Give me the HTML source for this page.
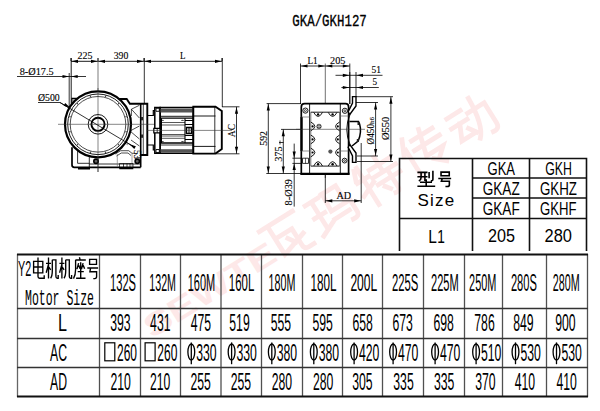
<!DOCTYPE html>
<html><head><meta charset="utf-8"><style>
html,body{margin:0;padding:0;background:#fff;}
body{width:600px;height:411px;overflow:hidden;position:relative;}
svg{position:absolute;left:0;top:0;}
</style></head><body>
<svg width="600" height="411" viewBox="0 0 600 411">
<path d="M-16 -15 H16 M-8 -15 V12 L14 5 M-8 -3 H8 V13 Q8 17 12 17 H17 M1 2 L5 8" transform="translate(285.5 237.0) rotate(-32) scale(1.22)" fill="none" stroke="#fde8e8" stroke-width="3.9" stroke-linecap="square"/>
<path d="M-18 -13 H-6 M-17 0 H-7 M-12 -13 V13 M-18 16 L-5 10 M-2 -14 H12 V-2 M-1 -14 L-2 2 H16 V13 Q16 18 10 17 M-3 9 H11" transform="translate(332.1 207.9) rotate(-32) scale(1.22)" fill="none" stroke="#fde8e8" stroke-width="3.9" stroke-linecap="square"/>
<path d="M-14 -16 L-17 -8 M-17 -6 H-6 M-11 -17 V18 M-18 6 L-5 0 M-3 -10 H16 M6 -17 V-3 M-4 -3 H18 M-3 4 H18 M10 0 V14 Q10 18 6 17 M1 8 L4 12" transform="translate(378.8 178.7) rotate(-32) scale(1.22)" fill="none" stroke="#fde8e8" stroke-width="3.9" stroke-linecap="square"/>
<path d="M-12 -17 L-18 -4 M-14 -8 V18 M-6 -12 H14 M-8 -4 H16 M4 -17 L-2 5 H14 L6 12 M2 10 L10 17" transform="translate(425.4 149.6) rotate(-32) scale(1.22)" fill="none" stroke="#fde8e8" stroke-width="3.9" stroke-linecap="square"/>
<path d="M-17 -12 H-4 M-18 -3 H-3 M-10 -3 L-16 10 H-4 M-6 4 L-2 10 M0 -7 H16 V12 Q16 18 10 17 M7 -17 Q6 8 -2 16" transform="translate(472.1 120.4) rotate(-32) scale(1.22)" fill="none" stroke="#fde8e8" stroke-width="3.9" stroke-linecap="square"/>
<text x="0" y="0" transform="translate(152 339) rotate(-32)" font-size="32" font-weight="bold" font-family='"Liberation Sans", sans-serif' fill="#fde8e8" textLength="150" lengthAdjust="spacingAndGlyphs">SEWTE</text>
<line x1="17.5" y1="254" x2="17.5" y2="397" stroke="#666" stroke-width="1.3"/>
<line x1="99.5" y1="254" x2="99.5" y2="397" stroke="#505050" stroke-width="1.3"/>
<line x1="140.5" y1="254" x2="140.5" y2="397" stroke="#505050" stroke-width="1.3"/>
<line x1="180.5" y1="254" x2="180.5" y2="397" stroke="#505050" stroke-width="1.3"/>
<line x1="221.0" y1="254" x2="221.0" y2="397" stroke="#505050" stroke-width="1.3"/>
<line x1="261.5" y1="254" x2="261.5" y2="397" stroke="#505050" stroke-width="1.3"/>
<line x1="302.5" y1="254" x2="302.5" y2="397" stroke="#505050" stroke-width="1.3"/>
<line x1="342.5" y1="254" x2="342.5" y2="397" stroke="#505050" stroke-width="1.3"/>
<line x1="382.5" y1="254" x2="382.5" y2="397" stroke="#505050" stroke-width="1.3"/>
<line x1="423.5" y1="254" x2="423.5" y2="397" stroke="#505050" stroke-width="1.3"/>
<line x1="464.5" y1="254" x2="464.5" y2="397" stroke="#505050" stroke-width="1.3"/>
<line x1="502.5" y1="254" x2="502.5" y2="397" stroke="#505050" stroke-width="1.3"/>
<line x1="546.5" y1="254" x2="546.5" y2="397" stroke="#505050" stroke-width="1.3"/>
<line x1="587.5" y1="254" x2="587.5" y2="397" stroke="#505050" stroke-width="1.3"/>
<line x1="17" y1="254.5" x2="588" y2="254.5" stroke="#111" stroke-width="2"/>
<line x1="17" y1="308.5" x2="588" y2="308.5" stroke="#333" stroke-width="1.6"/>
<line x1="17" y1="338.5" x2="588" y2="338.5" stroke="#333" stroke-width="1.6"/>
<line x1="17" y1="367.5" x2="588" y2="367.5" stroke="#333" stroke-width="1.6"/>
<line x1="17" y1="396.5" x2="588" y2="396.5" stroke="#111" stroke-width="2"/>
<text x="110" y="290.5" font-size="24.5" font-family='"Liberation Sans", sans-serif' text-anchor="start" textLength="26" lengthAdjust="spacingAndGlyphs" >132S</text>
<text x="149.3" y="290.5" font-size="24.5" font-family='"Liberation Sans", sans-serif' text-anchor="start" textLength="26.7" lengthAdjust="spacingAndGlyphs" >132M</text>
<text x="187.7" y="290.5" font-size="24.5" font-family='"Liberation Sans", sans-serif' text-anchor="start" textLength="27.5" lengthAdjust="spacingAndGlyphs" >160M</text>
<text x="228.8" y="290.5" font-size="24.5" font-family='"Liberation Sans", sans-serif' text-anchor="start" textLength="25.5" lengthAdjust="spacingAndGlyphs" >160L</text>
<text x="268.5" y="290.5" font-size="24.5" font-family='"Liberation Sans", sans-serif' text-anchor="start" textLength="26.9" lengthAdjust="spacingAndGlyphs" >180M</text>
<text x="310.4" y="290.5" font-size="24.5" font-family='"Liberation Sans", sans-serif' text-anchor="start" textLength="26.1" lengthAdjust="spacingAndGlyphs" >180L</text>
<text x="350.4" y="290.5" font-size="24.5" font-family='"Liberation Sans", sans-serif' text-anchor="start" textLength="26.9" lengthAdjust="spacingAndGlyphs" >200L</text>
<text x="392" y="290.5" font-size="24.5" font-family='"Liberation Sans", sans-serif' text-anchor="start" textLength="26.4" lengthAdjust="spacingAndGlyphs" >225S</text>
<text x="431" y="290.5" font-size="24.5" font-family='"Liberation Sans", sans-serif' text-anchor="start" textLength="27.7" lengthAdjust="spacingAndGlyphs" >225M</text>
<text x="469.1" y="290.5" font-size="24.5" font-family='"Liberation Sans", sans-serif' text-anchor="start" textLength="27.3" lengthAdjust="spacingAndGlyphs" >250M</text>
<text x="510.9" y="290.5" font-size="24.5" font-family='"Liberation Sans", sans-serif' text-anchor="start" textLength="26.0" lengthAdjust="spacingAndGlyphs" >280S</text>
<text x="552.7" y="290.5" font-size="24.5" font-family='"Liberation Sans", sans-serif' text-anchor="start" textLength="26.9" lengthAdjust="spacingAndGlyphs" >280M</text>
<text x="110.2" y="331" font-size="24.5" font-family='"Liberation Sans", sans-serif' text-anchor="start" textLength="20.4" lengthAdjust="spacingAndGlyphs" >393</text>
<text x="150.1" y="331" font-size="24.5" font-family='"Liberation Sans", sans-serif' text-anchor="start" textLength="20.4" lengthAdjust="spacingAndGlyphs" >431</text>
<text x="190.7" y="331" font-size="24.5" font-family='"Liberation Sans", sans-serif' text-anchor="start" textLength="20.4" lengthAdjust="spacingAndGlyphs" >475</text>
<text x="229.3" y="331" font-size="24.5" font-family='"Liberation Sans", sans-serif' text-anchor="start" textLength="20.4" lengthAdjust="spacingAndGlyphs" >519</text>
<text x="270.7" y="331" font-size="24.5" font-family='"Liberation Sans", sans-serif' text-anchor="start" textLength="20.4" lengthAdjust="spacingAndGlyphs" >555</text>
<text x="312.5" y="331" font-size="24.5" font-family='"Liberation Sans", sans-serif' text-anchor="start" textLength="20.4" lengthAdjust="spacingAndGlyphs" >595</text>
<text x="352.5" y="331" font-size="24.5" font-family='"Liberation Sans", sans-serif' text-anchor="start" textLength="20.4" lengthAdjust="spacingAndGlyphs" >658</text>
<text x="392.5" y="331" font-size="24.5" font-family='"Liberation Sans", sans-serif' text-anchor="start" textLength="20.4" lengthAdjust="spacingAndGlyphs" >673</text>
<text x="433.5" y="331" font-size="24.5" font-family='"Liberation Sans", sans-serif' text-anchor="start" textLength="20.4" lengthAdjust="spacingAndGlyphs" >698</text>
<text x="474.3" y="331" font-size="24.5" font-family='"Liberation Sans", sans-serif' text-anchor="start" textLength="20.4" lengthAdjust="spacingAndGlyphs" >786</text>
<text x="513.2" y="331" font-size="24.5" font-family='"Liberation Sans", sans-serif' text-anchor="start" textLength="20.4" lengthAdjust="spacingAndGlyphs" >849</text>
<text x="555.2" y="331" font-size="24.5" font-family='"Liberation Sans", sans-serif' text-anchor="start" textLength="20.4" lengthAdjust="spacingAndGlyphs" >900</text>
<text x="110.5" y="389.5" font-size="24.5" font-family='"Liberation Sans", sans-serif' text-anchor="start" textLength="20.4" lengthAdjust="spacingAndGlyphs" >210</text>
<text x="149.9" y="389.5" font-size="24.5" font-family='"Liberation Sans", sans-serif' text-anchor="start" textLength="20.4" lengthAdjust="spacingAndGlyphs" >210</text>
<text x="190.5" y="389.5" font-size="24.5" font-family='"Liberation Sans", sans-serif' text-anchor="start" textLength="20.4" lengthAdjust="spacingAndGlyphs" >255</text>
<text x="230.75" y="389.5" font-size="24.5" font-family='"Liberation Sans", sans-serif' text-anchor="start" textLength="20.4" lengthAdjust="spacingAndGlyphs" >255</text>
<text x="271.7" y="389.5" font-size="24.5" font-family='"Liberation Sans", sans-serif' text-anchor="start" textLength="20.4" lengthAdjust="spacingAndGlyphs" >280</text>
<text x="313" y="389.5" font-size="24.5" font-family='"Liberation Sans", sans-serif' text-anchor="start" textLength="20.4" lengthAdjust="spacingAndGlyphs" >280</text>
<text x="352.2" y="389.5" font-size="24.5" font-family='"Liberation Sans", sans-serif' text-anchor="start" textLength="20.4" lengthAdjust="spacingAndGlyphs" >305</text>
<text x="393.3" y="389.5" font-size="24.5" font-family='"Liberation Sans", sans-serif' text-anchor="start" textLength="20.4" lengthAdjust="spacingAndGlyphs" >335</text>
<text x="434" y="389.5" font-size="24.5" font-family='"Liberation Sans", sans-serif' text-anchor="start" textLength="20.4" lengthAdjust="spacingAndGlyphs" >335</text>
<text x="475.2" y="389.5" font-size="24.5" font-family='"Liberation Sans", sans-serif' text-anchor="start" textLength="20.4" lengthAdjust="spacingAndGlyphs" >370</text>
<text x="514.75" y="389.5" font-size="24.5" font-family='"Liberation Sans", sans-serif' text-anchor="start" textLength="20.4" lengthAdjust="spacingAndGlyphs" >410</text>
<text x="556.5" y="389.5" font-size="24.5" font-family='"Liberation Sans", sans-serif' text-anchor="start" textLength="20.4" lengthAdjust="spacingAndGlyphs" >410</text>
<rect x="104.8" y="342.8" width="10" height="18" fill="none" stroke="#000" stroke-width="1.2"/>
<text x="117.0" y="361" font-size="24.5" font-family='"Liberation Sans", sans-serif' text-anchor="start" textLength="20" lengthAdjust="spacingAndGlyphs" >260</text>
<rect x="145.1" y="342.8" width="10" height="18" fill="none" stroke="#000" stroke-width="1.2"/>
<text x="157.3" y="361" font-size="24.5" font-family='"Liberation Sans", sans-serif' text-anchor="start" textLength="20" lengthAdjust="spacingAndGlyphs" >260</text>
<ellipse cx="191.3" cy="352" rx="3.4" ry="8.0" fill="none" stroke="#000" stroke-width="1.3"/>
<line x1="191.3" y1="342.4" x2="191.3" y2="364.2" stroke="#000" stroke-width="1.3"/>
<text x="196.2" y="360.7" font-size="24.5" font-family='"Liberation Sans", sans-serif' text-anchor="start" textLength="20.4" lengthAdjust="spacingAndGlyphs" >330</text>
<ellipse cx="231.6" cy="352" rx="3.4" ry="8.0" fill="none" stroke="#000" stroke-width="1.3"/>
<line x1="231.6" y1="342.4" x2="231.6" y2="364.2" stroke="#000" stroke-width="1.3"/>
<text x="236.4" y="360.7" font-size="24.5" font-family='"Liberation Sans", sans-serif' text-anchor="start" textLength="20.4" lengthAdjust="spacingAndGlyphs" >330</text>
<ellipse cx="271.8" cy="352" rx="3.4" ry="8.0" fill="none" stroke="#000" stroke-width="1.3"/>
<line x1="271.8" y1="342.4" x2="271.8" y2="364.2" stroke="#000" stroke-width="1.3"/>
<text x="276.7" y="360.7" font-size="24.5" font-family='"Liberation Sans", sans-serif' text-anchor="start" textLength="20.4" lengthAdjust="spacingAndGlyphs" >380</text>
<ellipse cx="313.8" cy="352" rx="3.4" ry="8.0" fill="none" stroke="#000" stroke-width="1.3"/>
<line x1="313.8" y1="342.4" x2="313.8" y2="364.2" stroke="#000" stroke-width="1.3"/>
<text x="318.7" y="360.7" font-size="24.5" font-family='"Liberation Sans", sans-serif' text-anchor="start" textLength="20.4" lengthAdjust="spacingAndGlyphs" >380</text>
<ellipse cx="354.1" cy="352" rx="3.4" ry="8.0" fill="none" stroke="#000" stroke-width="1.3"/>
<line x1="354.1" y1="342.4" x2="354.1" y2="364.2" stroke="#000" stroke-width="1.3"/>
<text x="358.9" y="360.7" font-size="24.5" font-family='"Liberation Sans", sans-serif' text-anchor="start" textLength="20.4" lengthAdjust="spacingAndGlyphs" >420</text>
<ellipse cx="393.1" cy="352" rx="3.4" ry="8.0" fill="none" stroke="#000" stroke-width="1.3"/>
<line x1="393.1" y1="342.4" x2="393.1" y2="364.2" stroke="#000" stroke-width="1.3"/>
<text x="397.9" y="360.7" font-size="24.5" font-family='"Liberation Sans", sans-serif' text-anchor="start" textLength="20.4" lengthAdjust="spacingAndGlyphs" >470</text>
<ellipse cx="435.1" cy="352" rx="3.4" ry="8.0" fill="none" stroke="#000" stroke-width="1.3"/>
<line x1="435.1" y1="342.4" x2="435.1" y2="364.2" stroke="#000" stroke-width="1.3"/>
<text x="439.9" y="360.7" font-size="24.5" font-family='"Liberation Sans", sans-serif' text-anchor="start" textLength="20.4" lengthAdjust="spacingAndGlyphs" >470</text>
<ellipse cx="476.1" cy="352" rx="3.4" ry="8.0" fill="none" stroke="#000" stroke-width="1.3"/>
<line x1="476.1" y1="342.4" x2="476.1" y2="364.2" stroke="#000" stroke-width="1.3"/>
<text x="481.0" y="360.7" font-size="24.5" font-family='"Liberation Sans", sans-serif' text-anchor="start" textLength="20.4" lengthAdjust="spacingAndGlyphs" >510</text>
<ellipse cx="515.5" cy="352" rx="3.4" ry="8.0" fill="none" stroke="#000" stroke-width="1.3"/>
<line x1="515.5" y1="342.4" x2="515.5" y2="364.2" stroke="#000" stroke-width="1.3"/>
<text x="520.5" y="360.7" font-size="24.5" font-family='"Liberation Sans", sans-serif' text-anchor="start" textLength="20.4" lengthAdjust="spacingAndGlyphs" >530</text>
<ellipse cx="556.5" cy="352" rx="3.4" ry="8.0" fill="none" stroke="#000" stroke-width="1.3"/>
<line x1="556.5" y1="342.4" x2="556.5" y2="364.2" stroke="#000" stroke-width="1.3"/>
<text x="561.4" y="360.7" font-size="24.5" font-family='"Liberation Sans", sans-serif' text-anchor="start" textLength="20.4" lengthAdjust="spacingAndGlyphs" >530</text>
<text x="18" y="276.4" font-size="21.3" font-family='"Liberation Sans", sans-serif' text-anchor="start" textLength="13.2" lengthAdjust="spacingAndGlyphs" >Y2</text>
<path d="M0.3 3.7 H9.5 V15.2 H0.3 Z M0.3 9.4 H9.5 M4.7 0 V19 Q4.7 20.6 6.3 20.6 H10.9 V17.6" transform="translate(33.3 257.6) scale(1 1)" fill="none" stroke="#000" stroke-width="1.35" vector-effect="non-scaling-stroke" stroke-linecap="butt"/>
<path d="M0 5.7 H5 M2.5 0 V20.8 M2.4 7.2 L0.2 15.2 M2.9 9.6 L4.7 12.2 M6.3 2.2 V13.5 Q6.3 18.6 4.6 20.6 M6.3 2.2 H9.9 V18.6 Q9.9 20.6 11.1 20.6 H12.2 V17.4" transform="translate(46 257.6) scale(1 1)" fill="none" stroke="#000" stroke-width="1.35" vector-effect="non-scaling-stroke" stroke-linecap="butt"/>
<path d="M0 5.7 H5 M2.5 0 V20.8 M2.4 7.2 L0.2 15.2 M2.9 9.6 L4.7 12.2 M6.3 2.2 V13.5 Q6.3 18.6 4.6 20.6 M6.3 2.2 H9.9 V18.6 Q9.9 20.6 11.1 20.6 H12.2 V17.4" transform="translate(59.4 257.6) scale(1 1)" fill="none" stroke="#000" stroke-width="1.35" vector-effect="non-scaling-stroke" stroke-linecap="butt"/>
<path d="M5.9 -0.3 L6.7 2.4 M1.9 2.4 H12.3 M2.1 2.4 V12 Q2.1 17.5 0 21 M5.1 5.6 L3.5 11.6 M5.2 7.6 L6.5 11.2 M9.6 5.6 L8 11.6 M9.7 7.6 L11.1 11.2 M4.2 14 H10.3 M7.2 4.6 V20.6 M2.6 20.6 H12" transform="translate(73.5 257.6) scale(1 1)" fill="none" stroke="#000" stroke-width="1.35" vector-effect="non-scaling-stroke" stroke-linecap="butt"/>
<path d="M2.3 1.8 H9.2 V6.7 H2.3 Z M0 10.4 H10.8 M3.3 10.4 L2.6 14.1 H9.3 V19 Q9.3 21 7.5 21 H6" transform="translate(87.3 257.6) scale(1 1)" fill="none" stroke="#000" stroke-width="1.35" vector-effect="non-scaling-stroke" stroke-linecap="butt"/>
<text x="25" y="305" font-size="22" font-family='"Liberation Mono", monospace' text-anchor="start" textLength="69" lengthAdjust="spacingAndGlyphs" >Motor Size</text>
<text x="58" y="331" font-size="24" font-family='"Liberation Sans", sans-serif' text-anchor="start" textLength="9" lengthAdjust="spacingAndGlyphs" >L</text>
<text x="50" y="361" font-size="24" font-family='"Liberation Sans", sans-serif' text-anchor="start" textLength="17" lengthAdjust="spacingAndGlyphs" >AC</text>
<text x="50" y="389.5" font-size="24" font-family='"Liberation Sans", sans-serif' text-anchor="start" textLength="17" lengthAdjust="spacingAndGlyphs" >AD</text>
<path d="M399.5 251 V158.5 H586.5 V251" fill="none" stroke="#111" stroke-width="1.6"/>
<line x1="472.5" y1="158" x2="472.5" y2="251" stroke="#111" stroke-width="1.6"/>
<line x1="529.5" y1="158" x2="529.5" y2="251" stroke="#111" stroke-width="1.6"/>
<line x1="472" y1="178" x2="587" y2="178" stroke="#111" stroke-width="1.6"/>
<line x1="472" y1="198" x2="587" y2="198" stroke="#111" stroke-width="1.6"/>
<line x1="399" y1="218.5" x2="587" y2="218.5" stroke="#111" stroke-width="1.6"/>
<path d="M417.4 172.4 H427.5 M417.4 176.7 H427.5 M421.1 172.4 V177.5 Q421.1 180 418.8 181 M424.9 172.4 V181 M429.1 172 V178.3 M432.9 170.8 V179.6 Q432.9 180.8 431.6 180.8 H430.8 M420 182.2 H432 M426.2 179.2 V186.2 M417.4 186.2 H435.2" fill="none" stroke="#000" stroke-width="1.6"/>
<path d="M2.3 1.8 H9.2 V6.7 H2.3 Z M0 10.4 H10.8 M3.3 10.4 L2.6 14.1 H9.3 V19 Q9.3 21 7.5 21 H6" transform="translate(438.3 170.8) scale(1.19 0.745)" fill="none" stroke="#000" stroke-width="1.6" vector-effect="non-scaling-stroke" stroke-linecap="butt"/>
<text x="417.6" y="206" font-size="17" font-family='"Liberation Sans", sans-serif' textLength="36.5" lengthAdjust="spacing">Size</text>
<text x="428.2" y="242.5" font-size="17.5" font-family='"Liberation Sans", sans-serif' text-anchor="start" textLength="8.6" lengthAdjust="spacingAndGlyphs" >L</text>
<text x="437.3" y="242.5" font-size="17.5" font-family='"Liberation Sans", sans-serif' text-anchor="start" textLength="7.6" lengthAdjust="spacingAndGlyphs" >1</text>
<text x="487.5" y="175.4" font-size="17.5" font-family='"Liberation Sans", sans-serif' text-anchor="start" textLength="27.5" lengthAdjust="spacingAndGlyphs" >GKA</text>
<text x="545.2" y="175.4" font-size="17.5" font-family='"Liberation Sans", sans-serif' text-anchor="start" textLength="26.7" lengthAdjust="spacingAndGlyphs" >GKH</text>
<text x="482.7" y="195" font-size="17.5" font-family='"Liberation Sans", sans-serif' text-anchor="start" textLength="37" lengthAdjust="spacingAndGlyphs" >GKAZ</text>
<text x="540" y="195" font-size="17.5" font-family='"Liberation Sans", sans-serif' text-anchor="start" textLength="37" lengthAdjust="spacingAndGlyphs" >GKHZ</text>
<text x="482.7" y="215.4" font-size="17.5" font-family='"Liberation Sans", sans-serif' text-anchor="start" textLength="37" lengthAdjust="spacingAndGlyphs" >GKAF</text>
<text x="540" y="215.4" font-size="17.5" font-family='"Liberation Sans", sans-serif' text-anchor="start" textLength="36.5" lengthAdjust="spacingAndGlyphs" >GKHF</text>
<text x="488" y="241.8" font-size="17.5" font-family='"Liberation Sans", sans-serif' text-anchor="start" textLength="27" lengthAdjust="spacingAndGlyphs" >205</text>
<text x="544.5" y="241.8" font-size="17.5" font-family='"Liberation Sans", sans-serif' text-anchor="start" textLength="27.4" lengthAdjust="spacingAndGlyphs" >280</text>
<text x="292.3" y="26.2" font-size="15.6" font-family='"Liberation Mono", monospace' text-anchor="start" textLength="74.5" lengthAdjust="spacingAndGlyphs" stroke="#000" stroke-width="0.3">GKA/GKH127</text>
<line x1="71" y1="61.3" x2="222" y2="61.3" stroke="#000" stroke-width="0.9" />
<line x1="71" y1="58" x2="71" y2="61" stroke="#000" stroke-width="0.9" />
<line x1="98" y1="58" x2="98" y2="61" stroke="#000" stroke-width="0.9" />
<line x1="144" y1="58" x2="144" y2="61" stroke="#000" stroke-width="0.9" />
<line x1="222" y1="58" x2="222" y2="61" stroke="#000" stroke-width="0.9" />
<path d="M71.50 61.30 L78.00 59.70 L78.00 62.90 Z" fill="#000"/>
<path d="M97.50 61.30 L91.00 62.90 L91.00 59.70 Z" fill="#000"/>
<path d="M98.50 61.30 L105.00 59.70 L105.00 62.90 Z" fill="#000"/>
<path d="M143.50 61.30 L137.00 62.90 L137.00 59.70 Z" fill="#000"/>
<path d="M144.50 61.30 L151.00 59.70 L151.00 62.90 Z" fill="#000"/>
<path d="M221.50 61.30 L215.00 62.90 L215.00 59.70 Z" fill="#000"/>
<text x="77.5" y="59.3" font-size="10.2" font-family='"Liberation Serif", serif' stroke="#000" stroke-width="0.12" textLength="15" lengthAdjust="spacingAndGlyphs" >225</text>
<text x="113.7" y="59.3" font-size="10.2" font-family='"Liberation Serif", serif' stroke="#000" stroke-width="0.12" textLength="14.6" lengthAdjust="spacingAndGlyphs" >390</text>
<text x="180" y="59" font-size="10.2" font-family='"Liberation Serif", serif' stroke="#000" stroke-width="0.12" textLength="5.5" lengthAdjust="spacingAndGlyphs" >L</text>
<line x1="71.2" y1="58" x2="71.2" y2="107" stroke="#000" stroke-width="0.9" />
<line x1="69.2" y1="73" x2="69.2" y2="108" stroke="#000" stroke-width="0.8" />
<line x1="98" y1="58" x2="98" y2="172" stroke="#444" stroke-width="0.7" />
<line x1="144.3" y1="58" x2="144.3" y2="104" stroke="#000" stroke-width="0.8" />
<line x1="222.3" y1="58" x2="222.3" y2="107" stroke="#000" stroke-width="0.8" />
<text x="19.7" y="74.5" font-size="10.2" font-family='"Liberation Serif", serif' stroke="#000" stroke-width="0.12" textLength="34" lengthAdjust="spacingAndGlyphs" >8-Ø17.5</text>
<line x1="17" y1="76.5" x2="86" y2="76.5" stroke="#000" stroke-width="0.8" />
<path d="M69.00 76.50 L62.50 78.10 L62.50 74.90 Z" fill="#000"/>
<path d="M71.20 76.50 L77.70 74.90 L77.70 78.10 Z" fill="#000"/>
<text x="38" y="101" font-size="10.2" font-family='"Liberation Serif", serif' stroke="#000" stroke-width="0.12" textLength="21.7" lengthAdjust="spacingAndGlyphs" >Ø500</text>
<line x1="38" y1="102.5" x2="60" y2="102.5" stroke="#000" stroke-width="0.8" />
<line x1="60" y1="102.5" x2="135" y2="147.5" stroke="#000" stroke-width="0.8" />
<path d="M70.00 107.60 L63.60 105.63 L65.25 102.88 Z" fill="#000"/>
<path d="M129.50 144.20 L135.90 146.17 L134.25 148.92 Z" fill="#000"/>
<path d="M72 104 L72 98.5 L80 98.5" fill="none" stroke="#000" stroke-width="1.4" />
<path d="M72.5 99 L79 99 L72.5 104 Z" fill="#aaa"/>
<path d="M119 99 L126.7 99 L129.9 103.7 L147.3 103.7 L147.3 155 L140.7 155" fill="none" stroke="#000" stroke-width="1.9" />
<path d="M140.7 103.7 L140.7 167.3" fill="none" stroke="#000" stroke-width="1.6" />
<path d="M143.3 103.7 L143.3 155" fill="none" stroke="#000" stroke-width="0.7" />
<rect x="141" y="117" width="2" height="3.3" fill="#222"/><rect x="141" y="134.5" width="2" height="3.3" fill="#222"/>
<path d="M131.4 109.2 L139.4 105.3 M131.4 109.2 L139.4 118 M131.4 109.2 V116 M130 131 L139.4 139 M139.4 126 L130 131 M131 140 L139.4 146" fill="none" stroke="#000" stroke-width="0.7" />
<path d="M72 147.3 L72 165 Q72 167.3 74.3 167.3 L140.7 167.3" fill="none" stroke="#000" stroke-width="1.7" />
<path d="M78 168.7 H90 M119.3 168.3 H133.3" fill="none" stroke="#000" stroke-width="1.8" />
<path d="M77.6 150.7 V163.3 H89.3 M89.3 150 V167 M89.3 164 H140.7" fill="none" stroke="#000" stroke-width="0.8" />
<path d="M115.3 154 L120.7 150.7 L128.7 150.7 L132 153.3 L135 153.3 M116.5 156 L121.3 153 L128 153 L131 155.5" fill="none" stroke="#000" stroke-width="0.7" />
<path d="M117.3 154 V167 M132 153.3 V167" fill="none" stroke="#666" stroke-width="0.6" />
<path d="M119.5 163.5 H133 V168 H119.5 Z M123.5 163.5 V168 M127 163.5 V168 M130 163.5 V168" fill="none" stroke="#000" stroke-width="0.7" />
<circle cx="96" cy="161.3" r="2.2" fill="#666" stroke="#000" stroke-width="1.6" />
<circle cx="137.3" cy="161.3" r="2.2" fill="#666" stroke="#000" stroke-width="1.6" />
<path d="M96 145 L108 140 L120 140 L128 145" fill="none" stroke="#555" stroke-width="0.6" />
<circle cx="98" cy="124.3" r="33" fill="#fff" stroke="#000" stroke-width="2.2" />
<circle cx="98" cy="124.3" r="30.3" fill="none" stroke="#000" stroke-width="0.9" />
<circle cx="98" cy="124.3" r="27.8" fill="none" stroke="#000" stroke-width="0.7" />
<circle cx="126.01" cy="131.81" r="0.7" fill="#333" stroke="#000" stroke-width="0" />
<circle cx="118.51" cy="144.81" r="0.7" fill="#333" stroke="#000" stroke-width="0" />
<circle cx="105.51" cy="152.31" r="0.7" fill="#333" stroke="#000" stroke-width="0" />
<circle cx="90.49" cy="152.31" r="0.7" fill="#333" stroke="#000" stroke-width="0" />
<circle cx="77.49" cy="144.81" r="0.7" fill="#333" stroke="#000" stroke-width="0" />
<circle cx="69.99" cy="131.81" r="0.7" fill="#333" stroke="#000" stroke-width="0" />
<circle cx="69.99" cy="116.79" r="0.7" fill="#333" stroke="#000" stroke-width="0" />
<circle cx="77.49" cy="103.79" r="0.7" fill="#333" stroke="#000" stroke-width="0" />
<circle cx="90.49" cy="96.29" r="0.7" fill="#333" stroke="#000" stroke-width="0" />
<circle cx="105.51" cy="96.29" r="0.7" fill="#333" stroke="#000" stroke-width="0" />
<circle cx="118.51" cy="103.79" r="0.7" fill="#333" stroke="#000" stroke-width="0" />
<circle cx="126.01" cy="116.79" r="0.7" fill="#333" stroke="#000" stroke-width="0" />
<circle cx="98" cy="124.3" r="9.8" fill="none" stroke="#000" stroke-width="0.9" />
<circle cx="98" cy="124.3" r="6.6" fill="none" stroke="#000" stroke-width="1.9" />
<line x1="58" y1="124.3" x2="158" y2="124.3" stroke="#333" stroke-width="0.6" />
<line x1="98" y1="88" x2="98" y2="172" stroke="#333" stroke-width="0.6" />
<line x1="60" y1="102.5" x2="135" y2="147.5" stroke="#000" stroke-width="0.8" />
<text x="0" y="0" transform="translate(134 150) rotate(90)" font-size="10" font-family='"Liberation Serif", serif' stroke="#000" stroke-width="0.12" textLength="9" lengthAdjust="spacingAndGlyphs" >53</text>
<path d="M147.3 115.5 L153.3 115.5 L153.3 110.5 L154.8 110.5 M147.3 145 L153.3 145 L153.3 150 L154.8 150" fill="none" stroke="#000" stroke-width="1.2" />
<path d="M154.8 107.5 L160.2 107.5 L160.2 153.3 L154.8 153.3 Z" fill="#fff" stroke="#000" stroke-width="1.5" />
<path d="M156 108.3 H159.3 V111.3 H156 Z M156 149.5 H159.3 V152.5 H156 Z" fill="#fff" stroke="#000" stroke-width="0.9" />
<path d="M153.8 128.3 H160.8 V132.9 H153.8 Z" fill="#fff" stroke="#000" stroke-width="1.2" />
<line x1="157.2" y1="128.3" x2="157.2" y2="132.9" stroke="#000" stroke-width="0.8" />
<path d="M160.2 107.5 L193.3 107.5 L193.3 153.3 L160.2 153.3 Z" fill="#fff" stroke="#000" stroke-width="1.6" />
<rect x="160.5" y="108.6" width="32.5" height="3.9" fill="#555"/>
<rect x="160.5" y="149.2" width="32.5" height="3.3" fill="#555"/>
<line x1="160.2" y1="116.3" x2="193.3" y2="116.3" stroke="#000" stroke-width="0.9" />
<line x1="160.2" y1="118.2" x2="193.3" y2="118.2" stroke="#000" stroke-width="1.3" />
<line x1="160.2" y1="143" x2="193.3" y2="143" stroke="#000" stroke-width="1.3" />
<line x1="160.2" y1="145" x2="193.3" y2="145" stroke="#000" stroke-width="0.8" />
<line x1="161.5" y1="122.5" x2="185" y2="122.5" stroke="#444" stroke-width="0.9" />
<line x1="161.5" y1="125" x2="185" y2="125" stroke="#444" stroke-width="0.9" />
<line x1="161.5" y1="134.5" x2="185" y2="134.5" stroke="#444" stroke-width="0.9" />
<line x1="161.5" y1="136" x2="185" y2="136" stroke="#444" stroke-width="0.9" />
<line x1="161.5" y1="138.3" x2="185" y2="138.3" stroke="#444" stroke-width="0.9" />
<line x1="161.5" y1="118.2" x2="161.5" y2="143" stroke="#000" stroke-width="1.0" />
<line x1="185" y1="118.2" x2="185" y2="143" stroke="#000" stroke-width="1.1" />
<path d="M161.5 121 Q162.5 118.8 163.5 121 M181.5 121 Q182.5 118.8 183.5 121" fill="none" stroke="#000" stroke-width="0.9" />
<path d="M161.5 141 Q162.5 143 163.5 141 M181.5 141 Q182.5 143 183.5 141" fill="none" stroke="#000" stroke-width="0.9" />
<line x1="185" y1="120.5" x2="193.3" y2="120.5" stroke="#000" stroke-width="1.0" />
<line x1="185" y1="124.5" x2="193.3" y2="124.5" stroke="#000" stroke-width="1.0" />
<line x1="185" y1="135.5" x2="193.3" y2="135.5" stroke="#000" stroke-width="1.0" />
<line x1="185" y1="139.5" x2="193.3" y2="139.5" stroke="#000" stroke-width="1.0" />
<path d="M186.5 127.5 H191.5 V133.5 H186.5 Z" fill="#fff" stroke="#000" stroke-width="1.4" />
<line x1="189" y1="128" x2="189" y2="133" stroke="#000" stroke-width="1.0" />
<path d="M193.3 106.8 L215.5 106.8 L221.8 111 L221.8 149 L215.5 153.6 L193.3 153.6 Z" fill="#fff" stroke="#000" stroke-width="1.9" />
<line x1="193.3" y1="116" x2="215.5" y2="116" stroke="#000" stroke-width="0.9" />
<line x1="193.3" y1="146.4" x2="215.5" y2="146.4" stroke="#000" stroke-width="0.9" />
<line x1="214.8" y1="107" x2="214.8" y2="153" stroke="#000" stroke-width="0.8" />
<line x1="147" y1="130.4" x2="232" y2="130.4" stroke="#333" stroke-width="0.6" />
<line x1="222" y1="106.8" x2="239.5" y2="106.8" stroke="#000" stroke-width="0.8" />
<line x1="216" y1="153.8" x2="239.5" y2="153.8" stroke="#000" stroke-width="0.8" />
<line x1="236.5" y1="106.8" x2="236.5" y2="153.8" stroke="#000" stroke-width="0.8" />
<path d="M236.50 107.30 L238.10 113.80 L234.90 113.80 Z" fill="#000"/>
<path d="M236.50 153.30 L234.90 146.80 L238.10 146.80 Z" fill="#000"/>
<text x="0" y="0" transform="translate(234.6 137.2) rotate(-90)" font-size="10.6" font-family='"Liberation Serif", serif' stroke="#000" stroke-width="0.12" textLength="13.2" lengthAdjust="spacingAndGlyphs" >AC</text>
<line x1="300.5" y1="63.5" x2="300.5" y2="104" stroke="#000" stroke-width="0.8" />
<line x1="325.3" y1="63.5" x2="325.3" y2="178" stroke="#333" stroke-width="0.7" />
<line x1="349.8" y1="63.5" x2="349.8" y2="104" stroke="#000" stroke-width="0.8" />
<line x1="300.5" y1="66" x2="349.8" y2="66" stroke="#000" stroke-width="0.8" />
<path d="M301.00 66.00 L307.50 64.40 L307.50 67.60 Z" fill="#000"/>
<path d="M324.80 66.00 L318.30 67.60 L318.30 64.40 Z" fill="#000"/>
<path d="M325.80 66.00 L332.30 64.40 L332.30 67.60 Z" fill="#000"/>
<path d="M349.30 66.00 L342.80 67.60 L342.80 64.40 Z" fill="#000"/>
<text x="307.5" y="64" font-size="10.2" font-family='"Liberation Serif", serif' stroke="#000" stroke-width="0.12" textLength="10.2" lengthAdjust="spacingAndGlyphs" >L1</text>
<text x="330" y="64" font-size="10.2" font-family='"Liberation Serif", serif' stroke="#000" stroke-width="0.12" textLength="15.4" lengthAdjust="spacingAndGlyphs" >205</text>
<line x1="356" y1="72" x2="356" y2="97" stroke="#000" stroke-width="0.8" />
<line x1="349.8" y1="72" x2="349.8" y2="104" stroke="#000" stroke-width="0.8" />
<line x1="335.5" y1="75.3" x2="382.5" y2="75.3" stroke="#000" stroke-width="0.8" />
<path d="M349.30 75.30 L342.80 76.90 L342.80 73.70 Z" fill="#000"/>
<path d="M356.50 75.30 L363.00 73.70 L363.00 76.90 Z" fill="#000"/>
<text x="371.5" y="72.8" font-size="10.2" font-family='"Liberation Serif", serif' stroke="#000" stroke-width="0.12" textLength="9.5" lengthAdjust="spacingAndGlyphs" >51</text>
<line x1="341.4" y1="87.5" x2="378.8" y2="87.5" stroke="#000" stroke-width="0.8" />
<path d="M349.30 87.50 L342.80 89.10 L342.80 85.90 Z" fill="#000"/>
<path d="M356.50 87.50 L363.00 85.90 L363.00 89.10 Z" fill="#000"/>
<text x="372.6" y="85" font-size="10.2" font-family='"Liberation Serif", serif' stroke="#000" stroke-width="0.12" textLength="4.6" lengthAdjust="spacingAndGlyphs" >5</text>
<line x1="266.6" y1="103.6" x2="301" y2="103.6" stroke="#000" stroke-width="0.8" />
<line x1="266.3" y1="173.5" x2="301" y2="173.5" stroke="#000" stroke-width="0.8" />
<line x1="268.3" y1="103.6" x2="268.3" y2="173.5" stroke="#000" stroke-width="0.8" />
<path d="M268.30 104.00 L269.90 110.50 L266.70 110.50 Z" fill="#000"/>
<path d="M268.30 173.00 L266.70 166.50 L269.90 166.50 Z" fill="#000"/>
<text x="0" y="0" transform="translate(266.5 145.8) rotate(-90)" font-size="10.2" font-family='"Liberation Serif", serif' stroke="#000" stroke-width="0.12" textLength="14.8" lengthAdjust="spacingAndGlyphs" >592</text>
<line x1="281" y1="129.4" x2="301" y2="129.4" stroke="#000" stroke-width="0.8" />
<line x1="283.3" y1="129.4" x2="283.3" y2="173.5" stroke="#000" stroke-width="0.8" />
<path d="M283.30 129.80 L284.90 136.30 L281.70 136.30 Z" fill="#000"/>
<path d="M283.30 173.00 L281.70 166.50 L284.90 166.50 Z" fill="#000"/>
<text x="0" y="0" transform="translate(281.5 161.7) rotate(-90)" font-size="10.2" font-family='"Liberation Serif", serif' stroke="#000" stroke-width="0.12" textLength="15.3" lengthAdjust="spacingAndGlyphs" >375</text>
<line x1="279" y1="142.5" x2="283.5" y2="142.5" stroke="#000" stroke-width="0.8" />
<line x1="280" y1="140.5" x2="280" y2="144.5" stroke="#000" stroke-width="0.7" />
<line x1="294.2" y1="143.6" x2="294.2" y2="206.6" stroke="#000" stroke-width="0.8" />
<path d="M294.20 158.00 L292.60 151.50 L295.80 151.50 Z" fill="#000"/>
<path d="M294.20 163.40 L295.80 169.90 L292.60 169.90 Z" fill="#000"/>
<line x1="292.4" y1="158.2" x2="305" y2="158.2" stroke="#000" stroke-width="0.8" />
<line x1="292.4" y1="163.4" x2="305" y2="163.4" stroke="#000" stroke-width="0.8" />
<text x="0" y="0" transform="translate(292.4 205.5) rotate(-90)" font-size="10.2" font-family='"Liberation Serif", serif' stroke="#000" stroke-width="0.12" textLength="26.5" lengthAdjust="spacingAndGlyphs" >8-Ø39</text>
<path d="M301.3 173.8 L301.3 107 Q301.3 103.7 304.6 103.7 L345.5 103.7 Q348.6 103.7 348.6 107 L348.6 173.8 Z" fill="#fff" stroke="#000" stroke-width="1.7" />
<rect x="300.5" y="117" width="2.2" height="34" fill="#000"/>
<line x1="300.5" y1="173.8" x2="349.5" y2="173.8" stroke="#000" stroke-width="2.2" />
<line x1="309.6" y1="103.7" x2="309.6" y2="173.8" stroke="#000" stroke-width="0.9" />
<line x1="340.3" y1="103.7" x2="340.3" y2="173.8" stroke="#000" stroke-width="0.9" />
<line x1="301.5" y1="117" x2="309.6" y2="117" stroke="#666" stroke-width="0.7" />
<line x1="301.5" y1="151" x2="309.6" y2="151" stroke="#666" stroke-width="0.7" />
<line x1="340.3" y1="116" x2="348.5" y2="116" stroke="#666" stroke-width="0.7" />
<line x1="340.3" y1="151" x2="348.5" y2="151" stroke="#666" stroke-width="0.7" />
<line x1="310.8" y1="112.2" x2="310.8" y2="166.1" stroke="#555" stroke-width="0.8" />
<line x1="339.6" y1="112.2" x2="339.6" y2="166.1" stroke="#555" stroke-width="0.8" />
<line x1="310.8" y1="166.1" x2="339.6" y2="166.1" stroke="#000" stroke-width="0.9" />
<line x1="310.8" y1="112.2" x2="339.6" y2="112.2" stroke="#000" stroke-width="0.9" />
<circle cx="305.4" cy="110.6" r="2.6" fill="none" stroke="#000" stroke-width="0.9" />
<circle cx="305.4" cy="110.6" r="1.0" fill="none" stroke="#000" stroke-width="0.7" />
<circle cx="344.9" cy="110.8" r="2.6" fill="none" stroke="#000" stroke-width="0.9" />
<circle cx="344.9" cy="110.8" r="1.0" fill="none" stroke="#000" stroke-width="0.7" />
<circle cx="344.6" cy="160.6" r="2.4" fill="none" stroke="#000" stroke-width="0.9" />
<circle cx="344.6" cy="160.6" r="0.9" fill="none" stroke="#000" stroke-width="0.7" />
<path d="M302.5 158.2 H308.5 V163.4 H302.5 Z" fill="none" stroke="#000" stroke-width="0.8" />
<line x1="305.5" y1="158.2" x2="305.5" y2="163.4" stroke="#000" stroke-width="0.6" />
<path d="M313.70000000000005 112.4 Q318.1 120.5 322.5 112.4" fill="none" stroke="#000" stroke-width="0.9" />
<circle cx="318.1" cy="114.4" r="1.2" fill="#000" stroke="#000" stroke-width="0" />
<path d="M328.20000000000005 112.4 Q332.6 120.5 337.0 112.4" fill="none" stroke="#000" stroke-width="0.9" />
<circle cx="332.6" cy="114.4" r="1.2" fill="#000" stroke="#000" stroke-width="0" />
<path d="M313.70000000000005 166 Q318.1 157.3 322.5 166" fill="none" stroke="#000" stroke-width="0.9" />
<circle cx="318.1" cy="164.2" r="1.2" fill="#000" stroke="#000" stroke-width="0" />
<path d="M328.20000000000005 166 Q332.6 157.3 337.0 166" fill="none" stroke="#000" stroke-width="0.9" />
<circle cx="332.6" cy="164.2" r="1.2" fill="#000" stroke="#000" stroke-width="0" />
<path d="M310.8 122.0 Q319 126.4 310.8 130.8" fill="none" stroke="#000" stroke-width="0.9" />
<circle cx="312.6" cy="126.4" r="1.1" fill="#000" stroke="#000" stroke-width="0" />
<path d="M339.6 122.0 Q331.4 126.4 339.6 130.8" fill="none" stroke="#000" stroke-width="0.9" />
<circle cx="337.8" cy="126.4" r="1.1" fill="#000" stroke="#000" stroke-width="0" />
<path d="M310.8 135.0 Q319 139.4 310.8 143.8" fill="none" stroke="#000" stroke-width="0.9" />
<circle cx="312.6" cy="139.4" r="1.1" fill="#000" stroke="#000" stroke-width="0" />
<path d="M339.6 135.0 Q331.4 139.4 339.6 143.8" fill="none" stroke="#000" stroke-width="0.9" />
<circle cx="337.8" cy="139.4" r="1.1" fill="#000" stroke="#000" stroke-width="0" />
<path d="M310.8 148.1 Q319 152.5 310.8 156.9" fill="none" stroke="#000" stroke-width="0.9" />
<circle cx="312.6" cy="152.5" r="1.1" fill="#000" stroke="#000" stroke-width="0" />
<path d="M339.6 148.1 Q331.4 152.5 339.6 156.9" fill="none" stroke="#000" stroke-width="0.9" />
<circle cx="337.8" cy="152.5" r="1.1" fill="#000" stroke="#000" stroke-width="0" />
<circle cx="319" cy="126.4" r="2.2" fill="#555" stroke="#000" stroke-width="0.6" />
<line x1="316.8" y1="126.4" x2="321.2" y2="126.4" stroke="#ddd" stroke-width="0.6" />
<line x1="319" y1="124.2" x2="319" y2="128.6" stroke="#ddd" stroke-width="0.6" />
<circle cx="330.4" cy="151.6" r="2.1" fill="#555" stroke="#000" stroke-width="0" />
<path d="M352.5 96.6 L356 96.6 L356 106 L349.8 114.5 L348.2 111.8 L352.5 103 Z" fill="#fff" stroke="#000" stroke-width="1.4" />
<path d="M352.5 162.4 L356 162.4 L356 153 L349.8 144.5 L348.2 147.2 L352.5 156 Z" fill="#fff" stroke="#000" stroke-width="1.4" />
<path d="M349.5 121.6 H358.5 L359.6 124 Q362 132 358.2 141 L352 146" fill="none" stroke="#000" stroke-width="1.5" />
<path d="M350 114.5 Q343.5 129.5 350 144.5" fill="none" stroke="#000" stroke-width="0.9" />
<rect x="357.5" y="122" width="2" height="3" fill="#222"/><rect x="356.8" y="139" width="2" height="3" fill="#222"/>
<line x1="356" y1="96.7" x2="393" y2="96.7" stroke="#000" stroke-width="0.8" />
<line x1="356" y1="102.5" x2="378" y2="102.5" stroke="#000" stroke-width="0.8" />
<line x1="357" y1="156" x2="378" y2="156" stroke="#000" stroke-width="0.8" />
<line x1="357" y1="161.5" x2="393" y2="161.5" stroke="#000" stroke-width="0.8" />
<line x1="390.9" y1="96.7" x2="390.9" y2="161.5" stroke="#000" stroke-width="0.8" />
<path d="M390.90 97.20 L392.50 103.70 L389.30 103.70 Z" fill="#000"/>
<path d="M390.90 161.00 L389.30 154.50 L392.50 154.50 Z" fill="#000"/>
<line x1="375.6" y1="102.5" x2="375.6" y2="156" stroke="#000" stroke-width="0.8" />
<path d="M375.60 103.00 L377.20 109.50 L374.00 109.50 Z" fill="#000"/>
<path d="M375.60 155.50 L374.00 149.00 L377.20 149.00 Z" fill="#000"/>
<text x="0" y="0" transform="translate(388.6 140.1) rotate(-90)" font-size="10.2" font-family='"Liberation Serif", serif' stroke="#000" stroke-width="0.12" textLength="23.3" lengthAdjust="spacingAndGlyphs" >Ø550</text>
<text x="0" y="0" transform="translate(374 144.4) rotate(-90)" font-size="10.2" font-family='"Liberation Serif", serif' stroke="#000" stroke-width="0.12" textLength="20.4" lengthAdjust="spacingAndGlyphs" >Ø450</text>
<text x="0" y="0" transform="translate(374.2 124) rotate(-90)" font-size="6.5" font-family='"Liberation Serif", serif' stroke="#000" stroke-width="0.12" textLength="7" lengthAdjust="spacingAndGlyphs" >h6</text>
<line x1="345" y1="129.3" x2="365" y2="129.3" stroke="#333" stroke-width="0.6" />
<line x1="296" y1="129.3" x2="345" y2="129.3" stroke="#333" stroke-width="0.6" />
<line x1="361.2" y1="143" x2="361.2" y2="203" stroke="#000" stroke-width="0.8" />
<line x1="325.3" y1="173" x2="325.3" y2="203" stroke="#000" stroke-width="0.8" />
<line x1="325.3" y1="200.8" x2="361.2" y2="200.8" stroke="#000" stroke-width="0.8" />
<path d="M325.80 200.80 L332.30 199.20 L332.30 202.40 Z" fill="#000"/>
<path d="M360.70 200.80 L354.20 202.40 L354.20 199.20 Z" fill="#000"/>
<text x="336.4" y="198.8" font-size="10.2" font-family='"Liberation Serif", serif' stroke="#000" stroke-width="0.12" textLength="14.6" lengthAdjust="spacingAndGlyphs" >AD</text>
</svg>
</body></html>
